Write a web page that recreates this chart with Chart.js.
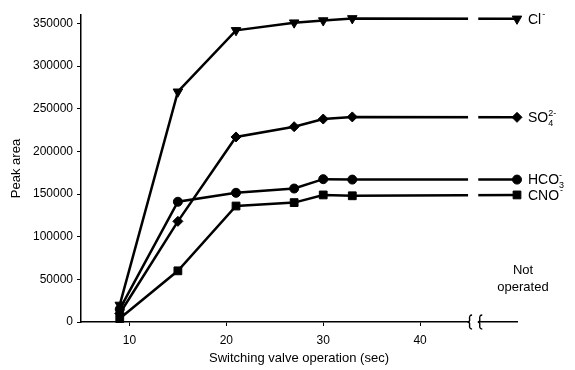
<!DOCTYPE html>
<html>
<head>
<meta charset="utf-8">
<script src="https://cdn.jsdelivr.net/npm/chart.js@4"></script>
<style>
  html, body { margin: 0; padding: 0; background: #fff; }
  #wrap { width: 575px; height: 370px; }
</style>
</head>
<body>
<div id="wrap"><canvas id="chart"></canvas></div>
<script>
// Switching valve time (sec) and the "not operated" position after the axis break
const times = [9, 15, 21, 27, 30, 33];
const notOperatedX = 50;
const xTicks = [10, 20, 30, 40];
const yTicks = [0, 50000, 100000, 150000, 200000, 250000, 300000, 350000];

// Peak areas per anion
const clValues = [20000, 270000, 342000, 351000, 353500, 356000];
const so4Values = [10000, 118000, 217000, 229000, 238000, 240500];
const hco3Values = [15000, 141000, 151500, 156500, 167500, 167000];
const cnoValues = [4000, 60000, 136000, 140000, 149000, 148000];

const clNotOperated = 355500;
const so4NotOperated = 240000;
const hco3NotOperated = 167000;
const cnoNotOperated = 149000;

const FONT = "'Liberation Sans', Arial, Helvetica, sans-serif";

function series(values, last) {
    const pts = times.map((t, i) => ({ x: t, y: values[i] }));
    pts.push({ x: notOperatedX, y: last });
    return pts;
}

// Right-hand ion labels: [base, subscript, superscript, value]
const ionLabels = [
    ['Cl', '', '-', clNotOperated],
    ['SO', '4', '2-', so4NotOperated],
    ['HCO', '3', '-', hco3NotOperated],
    ['CNO', '', '-', cnoNotOperated]
];

const breakPlugin = {
    id: 'breakPlugin',
    afterDatasetsDraw(chart) {
        const { ctx, chartArea, scales: { x, y } } = chart;
        const x1 = x.getPixelForValue(44.95);
        const x2 = x.getPixelForValue(46.0);
        const axisY = y.getPixelForValue(0);
        ctx.save();
        ctx.fillStyle = '#fff';
        ctx.fillRect(x1, chartArea.top - 6, x2 - x1, axisY - chartArea.top + 8);
        // axis break braces, drawn like "{"
        ctx.strokeStyle = '#000';
        ctx.lineWidth = 1.4;
        [x1 + 1.5, x2 + 1.5].forEach(bx => {
            ctx.beginPath();
            ctx.moveTo(bx + 2.5, axisY - 7);
            ctx.quadraticCurveTo(bx - 0.5, axisY - 7, bx, axisY - 3);
            ctx.quadraticCurveTo(bx + 0.5, axisY, bx - 2, axisY);
            ctx.quadraticCurveTo(bx + 0.5, axisY, bx, axisY + 3);
            ctx.quadraticCurveTo(bx - 0.5, axisY + 7, bx + 2.5, axisY + 7);
            ctx.stroke();
        });
        ctx.restore();
    },
    afterDraw(chart) {
        const { ctx, chartArea, scales: { y } } = chart;
        const lx = chartArea.right + 11;
        ctx.save();
        ctx.fillStyle = '#000';
        ctx.textBaseline = 'middle';
        ctx.textAlign = 'left';
        ionLabels.forEach(([base, sub, sup, val]) => {
            const py = y.getPixelForValue(val) + 1;
            ctx.font = '14px ' + FONT;
            ctx.fillText(base, lx, py);
            let px = lx + ctx.measureText(base).width;
            ctx.font = '9px ' + FONT;
            if (sub) ctx.fillText(sub, px, py + 5);
            ctx.fillText(sup, px + (sub ? 0 : 1), py - 5);
        });
        ctx.font = '13px ' + FONT;
        ctx.textAlign = 'center';
        ctx.fillText('Not', 523, 270);
        ctx.fillText('operated', 523, 287);
        ctx.restore();
    }
};

function lineSet(label, data, style, radius, rotation) {
    return {
        label,
        data,
        borderColor: '#000',
        backgroundColor: '#000',
        borderWidth: 2.5,
        pointStyle: style,
        pointRadius: radius,
        pointRotation: rotation || 0,
        pointBorderWidth: 1,
        pointHoverRadius: radius,
        tension: 0,
        clip: false
    };
}

const ctx = document.getElementById('chart').getContext('2d');
new Chart(ctx, {
    type: 'line',
    data: {
        datasets: [
            lineSet('CNO-', series(cnoValues, cnoNotOperated), 'rect', 5.5),
            lineSet('HCO3-', series(hco3Values, hco3NotOperated), 'circle', 4.5),
            lineSet('SO4 2-', series(so4Values, so4NotOperated), 'rectRot', 5),
            lineSet('Cl-', series(clValues, clNotOperated), 'triangle', 5.5, 180)
        ]
    },
    options: {
        responsive: true,
        maintainAspectRatio: false,
        animation: false,
        layout: { padding: { top: 15, right: 58, left: 0, bottom: 0 } },
        plugins: {
            legend: { display: false },
            tooltip: { enabled: false }
        },
        scales: {
            x: {
                type: 'linear',
                min: 5,
                max: 50,
                afterBuildTicks: scale => { scale.ticks = xTicks.map(v => ({ value: v })); },
                afterFit: scale => { scale.height = 48; },
                grid: { drawOnChartArea: false, tickLength: 4, color: '#000', lineWidth: 1 },
                border: { display: true, color: '#000', width: 1.5 },
                ticks: { color: '#000', padding: 7, font: { family: FONT, size: 12 }, maxRotation: 0 },
                title: {
                    display: true,
                    text: 'Switching valve operation (sec)',
                    color: '#000',
                    font: { family: FONT, size: 13 },
                    padding: { top: 0, bottom: 4 }
                }
            },
            y: {
                min: 0,
                max: 360000,
                afterBuildTicks: scale => { scale.ticks = yTicks.map(v => ({ value: v })); },
                afterFit: scale => { scale.width = 81; },
                grid: { drawOnChartArea: false, tickLength: 4, color: '#000', lineWidth: 1 },
                border: { display: true, color: '#000', width: 1.5 },
                ticks: {
                    color: '#000',
                    padding: 4,
                    font: { family: FONT, size: 12 },
                    callback: value => String(value)
                },
                title: {
                    display: true,
                    text: 'Peak area',
                    color: '#000',
                    font: { family: FONT, size: 13 },
                    padding: { top: 9, bottom: 0 }
                }
            }
        }
    },
    plugins: [breakPlugin]
});
</script>
</body>
</html>
